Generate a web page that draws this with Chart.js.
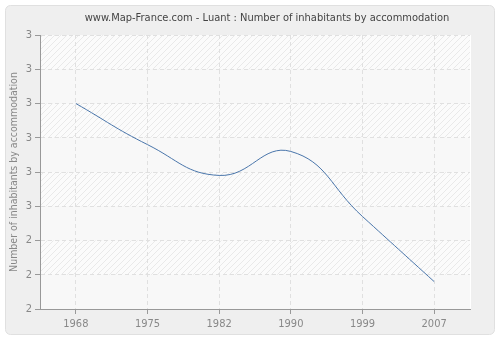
<!DOCTYPE html>
<html>
<head>
<meta charset="utf-8">
<script src="https://cdn.jsdelivr.net/npm/chart.js@4.4.1/dist/chart.umd.min.js"></script>
<style>
  html, body { margin: 0; padding: 0; background: #ffffff; }
  #wrap { width: 500px; height: 340px; position: relative; }
</style>
</head>
<body>
<div id="wrap"><canvas id="chart" width="500" height="340"></canvas></div>
<script>
const years = ['1968', '1975', '1982', '1990', '1999', '2007'];
const inhabitants = [2.80, 2.68, 2.59, 2.66, 2.47, 2.28];
const chartTitle = 'www.Map-France.com - Luant : Number of inhabitants by accommodation';
const yTitle = 'Number of inhabitants by accommodation';

const fontFamily = '"DejaVu Sans Condensed", "DejaVu Sans", sans-serif';

function hatchPattern(ctx) {
    const c = document.createElement('canvas');
    c.width = 6; c.height = 6;
    const p = c.getContext('2d');
    p.fillStyle = '#fbfbfb';
    p.fillRect(0, 0, 6, 6);
    p.strokeStyle = '#e9e9e9';
    p.lineWidth = 1;
    p.beginPath();
    p.moveTo(0, 6); p.lineTo(6, 0);
    p.moveTo(-3, 3); p.lineTo(3, -3);
    p.moveTo(3, 9); p.lineTo(9, 3);
    p.stroke();
    return ctx.createPattern(c, 'repeat');
}

const backdrop = {
    id: 'backdrop',
    beforeDraw(chart) {
        const ctx = chart.ctx;
        const a = chart.chartArea;
        ctx.save();
        ctx.fillStyle = '#ffffff';
        ctx.fillRect(0, 0, chart.width, chart.height);
        // panel
        ctx.beginPath();
        ctx.roundRect(5.5, 5.5, 489, 329, 5);
        ctx.fillStyle = '#efefef';
        ctx.fill();
        ctx.strokeStyle = '#e0e0e0';
        ctx.lineWidth = 1;
        ctx.stroke();
        // plot area
        ctx.fillStyle = '#ffffff';
        ctx.fillRect(a.left, a.top, a.right - a.left + 1, a.bottom - a.top);
        ctx.fillStyle = hatchPattern(ctx);
        ctx.fillRect(a.left, a.top, a.right - a.left, a.bottom - a.top);
        // alternate plain bands
        const y = chart.scales.y;
        const ticks = y.ticks;
        ctx.fillStyle = '#f8f8f8';
        for (let i = ticks.length - 1, k = 0; i > 0; i--, k++) {
            if (k % 2 === 1) {
                const t = y.getPixelForValue(ticks[i].value);
                const b = y.getPixelForValue(ticks[i - 1].value);
                ctx.fillRect(a.left, t, a.right - a.left, b - t);
            }
        }
        // title
        ctx.fillStyle = '#444444';
        ctx.font = '11px ' + fontFamily;
        ctx.textAlign = 'center';
        ctx.textBaseline = 'middle';
        ctx.fillText(chartTitle, 267, 18);
        ctx.restore();
    }
};

new Chart(document.getElementById('chart').getContext('2d'), {
    type: 'line',
    data: {
        labels: years,
        datasets: [{
            label: 'inhabitants',
            data: inhabitants,
            borderColor: '#4a76ab',
            borderWidth: 1,
            pointRadius: 0,
            fill: false,
            tension: 0.45
        }]
    },
    options: {
        responsive: false,
        animation: false,
        layout: { padding: { top: 35, right: 30, left: 0, bottom: 0 } },
        plugins: {
            legend: { display: false },
            title: { display: false },
            tooltip: { enabled: false }
        },
        scales: {
            x: {
                offset: true,
                afterFit(scale) { scale.height = 31; },
                grid: { offset: false, color: '#e0e0e0', tickColor: '#999999', tickLength: 5, drawTicks: true },
                border: { color: '#999999', dash: [4, 3] },
                ticks: { color: '#888888', font: { family: fontFamily, size: 11 }, padding: 4, maxRotation: 0 }
            },
            y: {
                min: 2.2,
                max: 3.0,
                afterFit(scale) { scale.width = 40; },
                grid: { color: '#e0e0e0', tickColor: '#999999', tickLength: 5 },
                border: { color: '#999999', dash: [4, 3] },
                ticks: {
                    stepSize: 0.1,
                    color: '#888888',
                    font: { family: fontFamily, size: 11 },
                    padding: 3,
                    callback: v => String(Math.round(v + 1e-9))
                },
                title: {
                    display: true,
                    text: yTitle,
                    color: '#888888',
                    font: { family: fontFamily, size: 10.5 },
                    padding: { top: 8, bottom: 0 }
                }
            }
        }
    },
    plugins: [backdrop]
});
</script>
</body>
</html>
